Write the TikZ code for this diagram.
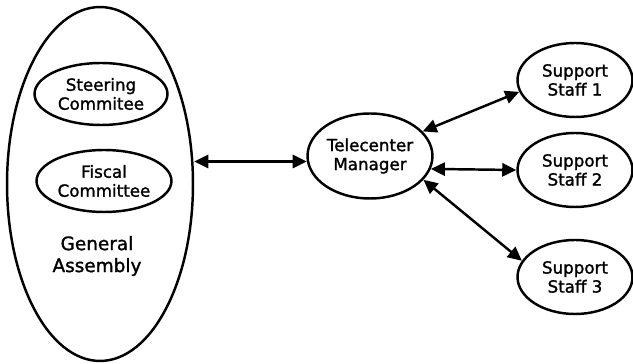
\documentclass[tikz,border=0pt]{standalone}
\usepackage{fontspec}
\setmainfont{DejaVu Sans}
\newfontfamily\diagfont{DejaVu Sans}[FakeBold=1.5, BoldFont={DejaVu Sans}]
\usepackage{tikz}
\usetikzlibrary{shapes.geometric, arrows.meta, positioning}

\begin{document}
\begin{tikzpicture}[x=0.02cm, y=-0.02cm, line width=1.4pt,
	oval/.style={draw, ellipse, inner sep=0pt, align=center, font=\fontsize{9.5}{10.8}\diagfont\bfseries},
	staff/.style={oval, minimum width=2.3cm, minimum height=1.48cm},
	link/.style={{Triangle[length=8pt,width=7.5pt]}-{Triangle[length=8pt,width=7.5pt]}}]
	\useasboundingbox (0,0) rectangle (633,364);
	
	\node[oval, minimum width=3.72cm, minimum height=7.08cm] (ga) at (100,184) {};
	\node[oval, minimum width=2.66cm, minimum height=1.24cm] (steer) at (101,94) {Steering\\Commitee};
	\node[oval, minimum width=2.7cm, minimum height=1.24cm] (fiscal) at (104,181) {Fiscal\\Committee};
	\node[align=center, font=\fontsize{10.5}{12.5}\diagfont\bfseries] (gatext) at (97,256) {General\\Assembly};
	
	\node[oval, minimum width=2.5cm, minimum height=1.7cm] (mgr) at (370,156) {Telecenter\\Manager};
	
	\node[staff] (s1) at (575,80) {Support\\Staff 1};
	\node[staff] (s2) at (575,170) {Support\\Staff 2};
	\node[staff] (s3) at (575,277) {Support\\Staff 3};
	
	\draw[link] (ga.east |- mgr.185) -- (mgr.185);
	\draw[link] (mgr.25) -- (s1.192);
	\draw[link] (mgr.-12) -- (s2.west);
	\draw[link] (mgr.-24) -- (s3.163);
\end{tikzpicture}
\end{document}
